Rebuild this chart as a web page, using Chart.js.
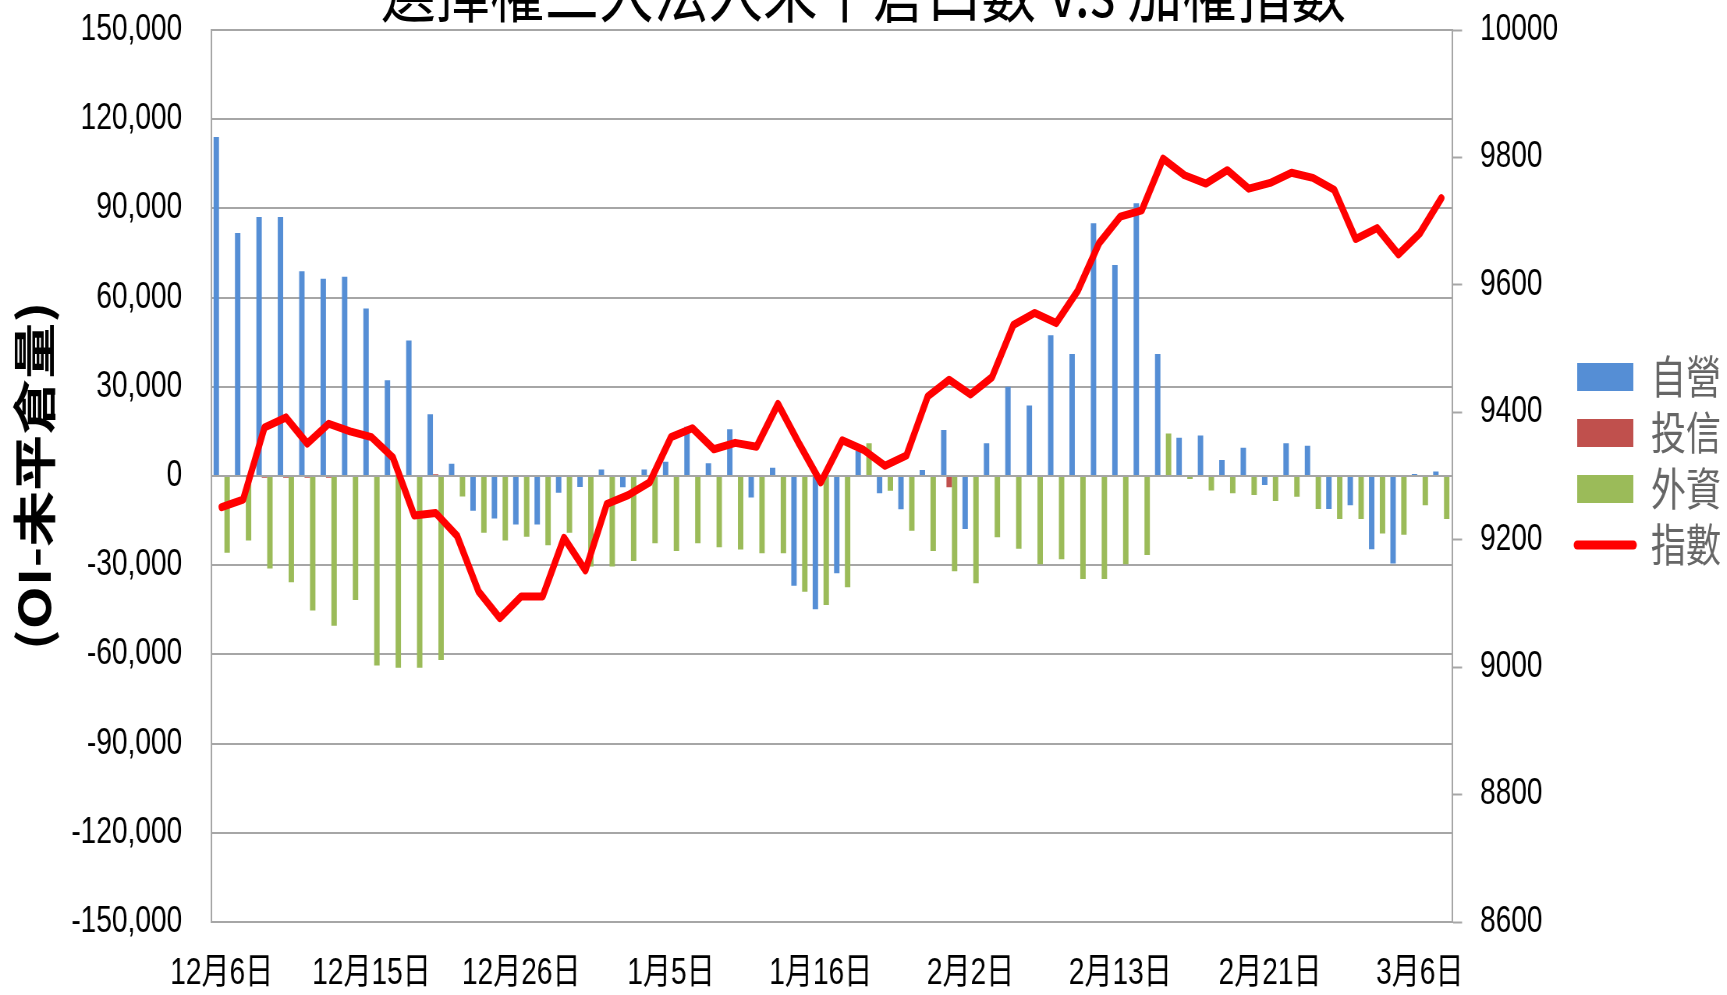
<!DOCTYPE html>
<html lang="zh-Hant">
<head>
<meta charset="utf-8">
<title>選擇權三大法人未平倉口數 v.s 加權指數</title>
<script src="https://cdn.jsdelivr.net/npm/chart.js@4.4.1/dist/chart.umd.min.js"></script>
<style>
  html, body { margin: 0; padding: 0; background: #fff; overflow: hidden; }
  #wrap { width: 1727px; height: 995px; overflow: hidden; }
  /* the source picture is squeezed sideways: draw it wide, then squeeze */
  #chart { transform: scaleX(0.78); transform-origin: 0 0; }
</style>
</head>
<body>
<div id="wrap"><canvas id="chart" width="2214" height="995"></canvas></div>
<script>
const dates = [
  "12月6日", "12月7日", "12月8日", "12月9日", "12月12日", "12月13日", "12月14日",
  "12月15日", "12月16日", "12月19日", "12月20日", "12月21日", "12月22日", "12月23日",
  "12月26日", "12月27日", "12月28日", "12月29日", "12月30日", "1月3日", "1月4日",
  "1月5日", "1月6日", "1月9日", "1月10日", "1月11日", "1月12日", "1月13日",
  "1月16日", "1月17日", "1月18日", "1月19日", "1月20日", "1月23日", "1月24日",
  "2月2日", "2月3日", "2月6日", "2月7日", "2月8日", "2月9日", "2月10日",
  "2月13日", "2月14日", "2月15日", "2月16日", "2月17日", "2月18日", "2月20日",
  "2月21日", "2月22日", "2月23日", "2月24日", "3月1日", "3月2日", "3月3日",
  "3月6日", "3月7日",
]

// 自營
const dealers = [
  114000, 81700, 87100, 87100, 68900, 66300, 67000, 56300, 32200, 45600,
  20800, 4100, -11700, -14300, -16300, -16300, -5600, -3700, 2200, -3800,
  2200, 4800, 16600, 4300, 15700, -7200, 2800, -36900, -44800, -32700,
  8500, -5800, -11200, 2000, 15500, -17800, 11000, 30000, 23700, 47300,
  41000, 85000, 71000, 91700, 41000, 12900, 13600, 5400, 9500, -3000,
  11000, 10200, -11100, -9800, -24600, -29400, 700, 1500,
]

// 投信
const trusts = [
  0, 0, -600, -600, -600, -600, 0, 0, 0, 0,
  600, 0, 0, 0, 0, 0, 0, 0, 0, 0,
  0, 0, 0, 0, 0, 0, 0, 0, 0, 0,
  0, 0, 0, 0, -3800, 0, 0, 0, 0, 0,
  0, 0, 0, 0, 0, 0, 0, 0, 0, 0,
  0, 0, 0, 0, 0, 0, 0, 0,
]

// 外資
const foreign = [
  -25800, -21700, -31100, -35700, -45200, -50400, -41700, -63700, -64500, -64500,
  -61900, -6900, -19100, -21700, -20400, -23300, -19100, -30400, -30400, -28600,
  -22600, -25200, -22600, -24000, -24700, -26000, -26000, -38900, -43400, -37400,
  11000, -5000, -18400, -25200, -32000, -36100, -20600, -24500, -29700, -28000,
  -34600, -34600, -29700, -26600, 14300, -1000, -4900, -5800, -6400, -8400,
  -7000, -11100, -14500, -14500, -19300, -19800, -9800, -14500,
]

// 指數 (加權指數, right axis)
const taiex = [
  9251, 9263, 9376, 9392, 9351, 9382, 9370, 9361, 9329, 9238,
  9242, 9206, 9119, 9077, 9111, 9111, 9203, 9152, 9256, 9270,
  9290, 9361, 9375, 9342, 9352, 9346, 9413, 9350, 9290, 9356,
  9341, 9316, 9332, 9425, 9451, 9428, 9455, 9537, 9556, 9540,
  9590, 9665, 9707, 9717, 9798, 9772, 9759, 9780, 9751, 9760,
  9776, 9768, 9749, 9672, 9689, 9648, 9681, 9736,
]

const gridGray = "#a6a6a6"
const latinFont = "'Liberation Sans', 'Noto Sans CJK TC', sans-serif"
const cjkFont = "'Noto Sans CJK TC', sans-serif"

// fixed axis sizes so the plot box lands where the original has it;
// label overhang is not allowed to push the plot down
const fitAxis = (width) => (scale) => {
  scale.width = width
  scale.paddingTop = 0
  scale.paddingBottom = 0
}

const ctx = document.getElementById("chart").getContext("2d")

new Chart(ctx, {
  type: "bar",
  data: {
    labels: dates,
    datasets: [
      { label: "自營", data: dealers, backgroundColor: "#558ed5", order: 1 },
      { label: "投信", data: trusts, backgroundColor: "#c0504d", order: 1 },
      { label: "外資", data: foreign, backgroundColor: "#9bbb59", order: 1 },
      {
        type: "line",
        label: "指數",
        data: taiex,
        yAxisID: "y1",
        borderColor: "#ff0000",
        borderWidth: 8,
        borderJoinStyle: "round",
        borderCapStyle: "round",
        pointRadius: 0,
        tension: 0,
        order: 0,
      },
    ],
  },
  options: {
    responsive: false,
    animation: false,
    devicePixelRatio: 1,
    layout: { padding: 0 },
    datasets: { bar: { categoryPercentage: 0.76, barPercentage: 1 } },
    plugins: {
      // title sits partly above the canvas, like the cropped original
      title: {
        display: true,
        text: "選擇權三大法人未平倉口數 v.s 加權指數",
        color: "#000",
        font: { family: cjkFont, size: 70, weight: "normal" },
        padding: { top: -52, bottom: -2 },
      },
      legend: {
        position: "right",
        fullSize: false,
        align: "start",
        maxWidth: 203,
        title: { display: true, text: "", font: { size: 10 }, padding: { top: 301.5, bottom: 0 } },
        labels: {
          usePointStyle: true,
          pointStyleWidth: 72,
          boxHeight: 28,
          padding: 11,
          color: "#000",
          font: { family: cjkFont, size: 45 },
          generateLabels: (chart) =>
            chart.data.datasets.map((ds, i) => {
              const isLine = ds.type === "line"
              return {
                text: ds.label,
                datasetIndex: i,
                fillStyle: isLine ? ds.borderColor : ds.backgroundColor,
                strokeStyle: isLine ? ds.borderColor : ds.backgroundColor,
                lineWidth: isLine ? 9 : 0,
                lineCap: "round",
                pointStyle: isLine ? "line" : "rect",
                hidden: false,
              }
            }),
        },
      },
      tooltip: { enabled: false },
    },
    scales: {
      x: {
        grid: { display: false, drawTicks: false },
        border: { display: false },
        ticks: {
          autoSkip: false,
          maxRotation: 0,
          padding: 30,
          color: "#000",
          font: { family: latinFont, size: 36 },
          callback: (value, index) => (index % 7 === 0 ? dates[index] : ""),
        },
        afterFit: (scale) => { scale.height = 73 },
      },
      y: {
        position: "left",
        min: -150000,
        max: 150000,
        ticks: {
          stepSize: 30000,
          padding: 37,
          color: "#000",
          font: { family: latinFont, size: 36 },
          callback: (value) => value.toLocaleString("en-US"),
        },
        grid: { color: gridGray, lineWidth: 2, drawTicks: false },
        border: { display: true, color: gridGray, width: 2 },
        title: {
          display: true,
          text: "(OI-未平倉量)",
          color: "#000",
          font: { family: cjkFont, size: 56, weight: "bold" },
          padding: { top: 10, bottom: 0 },
        },
        afterFit: fitAxis(270.5),
      },
      y1: {
        position: "right",
        min: 8600,
        max: 10000,
        ticks: {
          stepSize: 200,
          padding: 23,
          color: "#000",
          font: { family: latinFont, size: 36 },
          callback: (value) => String(value),
        },
        grid: { drawOnChartArea: false, drawTicks: true, tickLength: 13, tickColor: gridGray, tickWidth: 2 },
        border: { display: true, color: gridGray, width: 2 },
        afterFit: fitAxis(149.5),
      },
    },
  },
})
</script>
</body>
</html>
